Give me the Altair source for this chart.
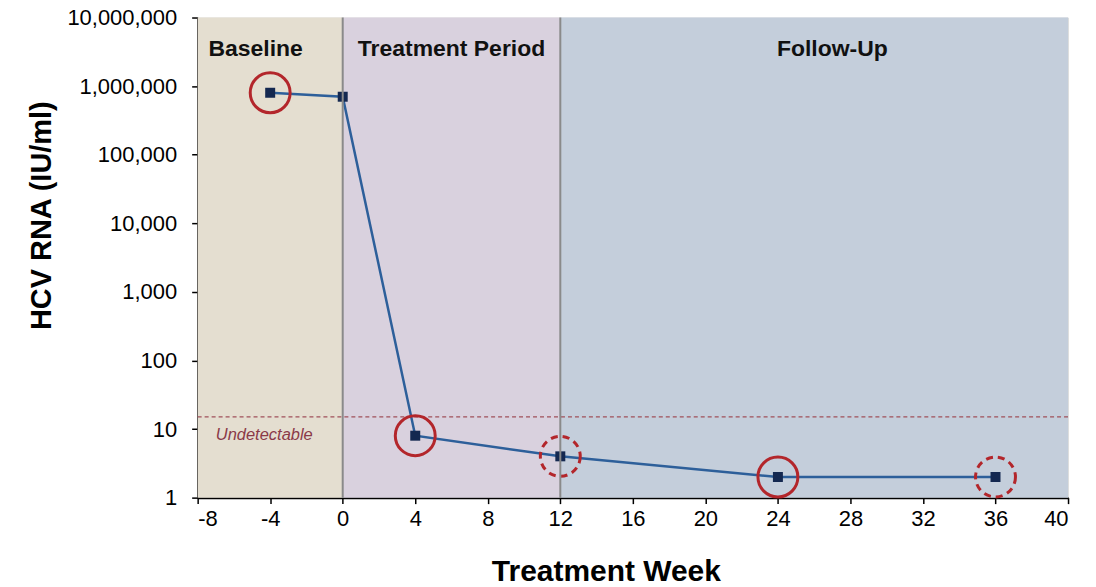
import altair as alt
import pandas as pd

# Data
weeks = [-4, 0, 4, 12, 24, 36]
hcv_rna = [800000, 700000, 8, 4, 2, 2]

solid_circle_weeks = [-4, 4, 24]
solid_circle_vals = [800000, 8, 2]
dashed_circle_weeks = [12, 36]
dashed_circle_vals = [4, 2]

region_names = ["Baseline", "Treatment Period", "Follow-Up"]
region_start = [-8, 0, 12]
region_end = [0, 12, 40]
region_colors = ["#e4ded0", "#d9d1de", "#c4cedb"]
region_label_x = [-4.8, 6, 27]
region_label_y = [3.5e6, 3.5e6, 3.5e6]

divider_weeks = [0, 12]
undetectable_limit = 15
undetectable_label = "Undetectable"
undetectable_label_x = -7.0
undetectable_label_y = 8.2

x_ticks = list(range(-8, 41, 4))
y_ticks = [1, 10, 100, 1000, 10000, 100000, 1000000, 10000000]

FONT = "Liberation Sans"
W, H = 872, 481

df = pd.DataFrame({"week": weeks, "rna": hcv_rna})
regions = pd.DataFrame({
    "name": region_names, "start": region_start, "end": region_end,
    "color": region_colors, "lx": region_label_x, "ly": region_label_y,
})
dividers = pd.DataFrame({"week": divider_weeks})
solid = pd.DataFrame({"week": solid_circle_weeks, "rna": solid_circle_vals})
dashed = pd.DataFrame({"week": dashed_circle_weeks, "rna": dashed_circle_vals})
undet = pd.DataFrame({"v": [undetectable_limit]})
undet_lbl = pd.DataFrame({"x": [undetectable_label_x], "y": [undetectable_label_y], "t": [undetectable_label]})

xscale = alt.Scale(domain=[-8, 40], nice=False, zero=False)
yscale = alt.Scale(type="log", domain=[1, 10000000], nice=False)

xaxis = alt.Axis(
    values=x_ticks, title="Treatment Week", grid=False,
    labelExpr="'' + datum.value",
    labelFont=FONT, labelFontSize=22, labelColor="#000", labelPadding=5,
    tickColor="#000", tickSize=6, tickWidth=1.5,
    domainColor="#000", domainWidth=2,
    titleFont=FONT, titleFontSize=30, titleFontWeight="bold", titleColor="#000",
    titleX=409, titleY=74, titleBaseline="middle", titleAlign="center",
)
yaxis = alt.Axis(
    values=y_ticks, format=",", title="HCV RNA (IU/ml)", grid=False,
    labelFont=FONT, labelFontSize=22, labelColor="#000", labelPadding=15,
    tickColor="#000", tickSize=6, tickWidth=1.5,
    domainColor="#000", domainWidth=2,
    titleFont=FONT, titleFontSize=29, titleFontWeight="bold", titleColor="#000",
    titleX=-156, titleY=198, titleBaseline="middle", titleAlign="center", titleAngle=-90,
)

bands = alt.Chart(regions).mark_rect().encode(
    x=alt.X("start:Q", scale=xscale, axis=xaxis),
    x2="end:Q",
    y=alt.datum(1, type="quantitative", scale=yscale, axis=yaxis),
    y2=alt.datum(10000000),
    color=alt.Color("color:N", scale=None),
)

div_rules = alt.Chart(dividers).mark_rule(color="#8a8a8a", strokeWidth=2).encode(
    x=alt.X("week:Q", scale=xscale),
)

undet_rule = alt.Chart(undet).mark_rule(color="#a0505a", strokeWidth=1.3, strokeDash=[4, 3]).encode(
    y=alt.Y("v:Q", scale=yscale),
)

undet_text = alt.Chart(undet_lbl).mark_text(
    align="left", baseline="middle", font=FONT, fontSize=16.5, fontStyle="italic", color="#8b3a48"
).encode(
    x=alt.X("x:Q", scale=xscale), y=alt.Y("y:Q", scale=yscale), text="t:N"
)

line = alt.Chart(df).mark_line(color="#2d5f9a", strokeWidth=2.5).encode(
    x=alt.X("week:Q", scale=xscale),
    y=alt.Y("rna:Q", scale=yscale),
)

circ_solid = alt.Chart(solid).mark_point(
    shape="circle", filled=False, size=1600, stroke="#b3262b", strokeWidth=3, opacity=1
).encode(x=alt.X("week:Q", scale=xscale), y=alt.Y("rna:Q", scale=yscale))

circ_dashed = alt.Chart(dashed).mark_point(
    shape="circle", filled=False, size=1600, stroke="#b3262b", strokeWidth=3, opacity=1,
    strokeDash=[7, 5]
).encode(x=alt.X("week:Q", scale=xscale), y=alt.Y("rna:Q", scale=yscale))

squares = alt.Chart(df).mark_square(size=100, color="#142850", opacity=1).encode(
    x=alt.X("week:Q", scale=xscale),
    y=alt.Y("rna:Q", scale=yscale),
)

labels = alt.Chart(regions).mark_text(
    font=FONT, fontSize=23, fontWeight="bold", color="#111", baseline="middle", align="center"
).encode(
    x=alt.X("lx:Q", scale=xscale), y=alt.Y("ly:Q", scale=yscale), text="name:N"
)

chart = alt.layer(
    bands, undet_rule, undet_text, line, circ_solid, circ_dashed, squares, div_rules, labels
).properties(
    width=W, height=H,
    autosize=alt.AutoSizeParams(type="none"),
    padding={"left": 190, "top": 9, "right": 20, "bottom": 92},
).configure_view(
    stroke="#444", strokeWidth=2
).configure(background="white")

chart.save("out.html", embed_options={"renderer": "svg", "actions": False})
